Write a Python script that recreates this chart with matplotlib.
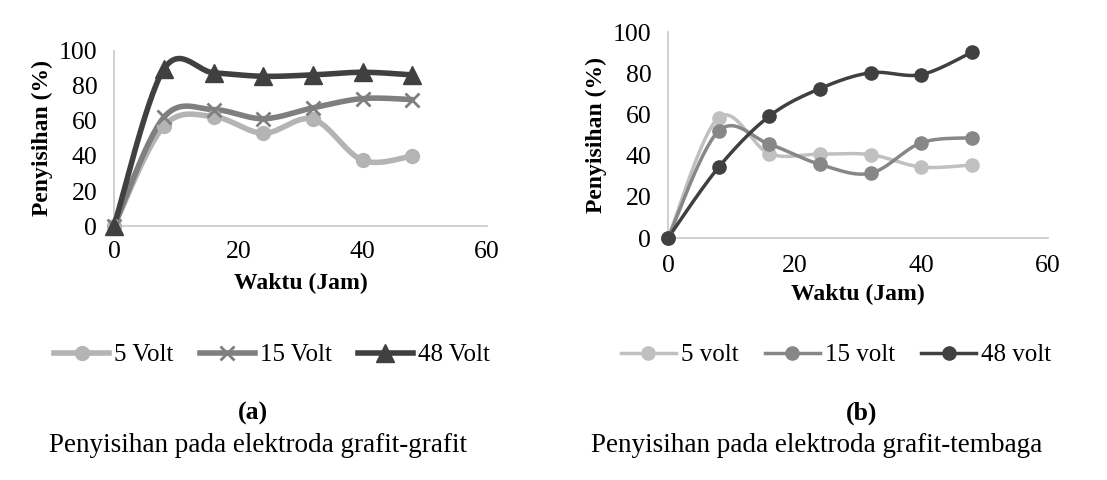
import matplotlib
matplotlib.use("Agg")
import matplotlib.pyplot as plt
import numpy as np
from matplotlib.lines import Line2D

plt.rcParams['font.family'] = ['Liberation Serif', 'DejaVu Serif']

# time (hours)
waktu = [0, 8, 16, 24, 32, 40, 48]

# (a) grafit-grafit
a_5v = [0, 57, 62.5, 53, 61, 37.5, 40]
a_15v = [0, 62, 66.5, 61.3, 67.5, 72.8, 72.2]
a_48v = [0, 89.5, 87.5, 85.5, 86.3, 87.8, 86.3]

# (b) grafit-tembaga
b_5v = [0, 58.5, 41, 40.8, 40.5, 34.5, 35.5]
b_15v = [0, 52, 45.6, 35.8, 31.5, 46.3, 48.7]
b_48v = [0, 34.4, 59.2, 72.6, 80.3, 79.4, 90.3]

labels_a = ['5 Volt', '15 Volt', '48 Volt']
labels_b = ['5 volt', '15 volt', '48 volt']


def smooth(ax, xs, ys, n=30):
    # Excel-like smoothed line (bezier through points), done in pixel space
    bb = ax.get_position()
    sx = bb.width / 60.0 * 11.07
    sy = bb.height / 100.0 * 4.8
    P = np.column_stack([np.array(xs) * sx, np.array(ys) * sy])
    ext = np.vstack([P[0], P, P[-1]])
    out = []
    t = np.linspace(0, 1, n)[:, None]
    for i in range(len(P) - 1):
        p0, p1, p2, p3 = ext[i], ext[i + 1], ext[i + 2], ext[i + 3]
        c1 = p1 + (p2 - p0) / 6.0
        c2 = p2 - (p3 - p1) / 6.0
        seg = ((1 - t) ** 3) * p1 + 3 * ((1 - t) ** 2) * t * c1 + 3 * (1 - t) * t ** 2 * c2 + t ** 3 * p2
        out.append(seg)
    out = np.vstack(out)
    return out[:, 0] / sx, out[:, 1] / sy


def style(ax):
    ax.set_xlim(0, 60)
    ax.set_ylim(0, 100)
    ax.set_xticks([0, 20, 40, 60])
    ax.set_yticks([0, 20, 40, 60, 80, 100])
    for s in ['top', 'right']:
        ax.spines[s].set_visible(False)
    for s in ['left', 'bottom']:
        ax.spines[s].set_color('#C8C8C8')
        ax.spines[s].set_linewidth(1.2)
    ax.tick_params(length=0, labelsize=18.5)
    ax.set_xlabel('Waktu (Jam)', fontsize=17, fontweight='bold')
    ax.set_ylabel('Penyisihan (%)', fontsize=17, fontweight='bold')


fig = plt.figure(figsize=(11.07, 4.8), dpi=100)
ax1 = fig.add_axes([0.103, 0.529, 0.337, 0.365])
ax2 = fig.add_axes([0.6034, 0.504, 0.3433, 0.429])
style(ax1)
style(ax2)
ax1.tick_params(axis='x', pad=11)
ax1.tick_params(axis='y', pad=12)
ax2.tick_params(axis='x', pad=12)
ax2.tick_params(axis='y', pad=12)
ax1.xaxis.labelpad = 7
ax2.xaxis.labelpad = 5
ax1.yaxis.labelpad = 4
ax2.yaxis.labelpad = 4

cols_a = ['#B4B4B4', '#7F7F7F', '#404040']
mk_a = ['o', 'x', '^']
ms_a = [10, 10, 13]
series_a = [a_5v, a_15v, a_48v]
handles_a = []
for ys, c, m, ms, lab in zip(series_a, cols_a, mk_a, ms_a, labels_a):
    sx, sy = smooth(ax1, waktu, ys)
    ax1.plot(sx, sy, color=c, lw=4, solid_capstyle='round', clip_on=False, zorder=3)
    ax1.plot(waktu, ys, ls='none', marker=m, color=c, ms=ms, mew=2 if m == 'x' else 1,
             clip_on=False, zorder=4)
    handles_a.append(Line2D([], [], color=c, lw=4, marker=m, ms=ms, mew=2 if m == 'x' else 1, label=lab))

cols_b = ['#C0C0C0', '#878787', '#404040']
series_b = [b_5v, b_15v, b_48v]
handles_b = []
for ys, c, lab in zip(series_b, cols_b, labels_b):
    sx, sy = smooth(ax2, waktu, ys)
    ax2.plot(sx, sy, color=c, lw=2.5, clip_on=False, zorder=3)
    ax2.plot(waktu, ys, ls='none', marker='o', color=c, ms=9.5, clip_on=False, zorder=4)
    handles_b.append(Line2D([], [], color=c, lw=2.5, marker='o', ms=9.5, label=lab))

leg_kw = dict(ncol=3, frameon=False, fontsize=18, handlelength=2.2, handletextpad=0.2,
              columnspacing=1.05, loc='center', borderpad=0)
fig.legend(handles=handles_a, bbox_to_anchor=(272 / 1107, 1 - 355 / 480), **leg_kw)
fig.legend(handles=handles_b, bbox_to_anchor=(836 / 1107, 1 - 355 / 480), **leg_kw)

fig.text(253 / 1107, 1 - 413 / 480, '(a)', ha='center', va='center', fontsize=18.5, fontweight='bold')
fig.text(862 / 1107, 1 - 413 / 480, '(b)', ha='center', va='center', fontsize=18.5, fontweight='bold')
fig.text(258 / 1107, 1 - 446 / 480, 'Penyisihan pada elektroda grafit-grafit', ha='center', va='center', fontsize=19.5)
fig.text(817 / 1107, 1 - 446 / 480, 'Penyisihan pada elektroda grafit-tembaga', ha='center', va='center', fontsize=19.5)

fig.savefig('out.png', dpi=100)
